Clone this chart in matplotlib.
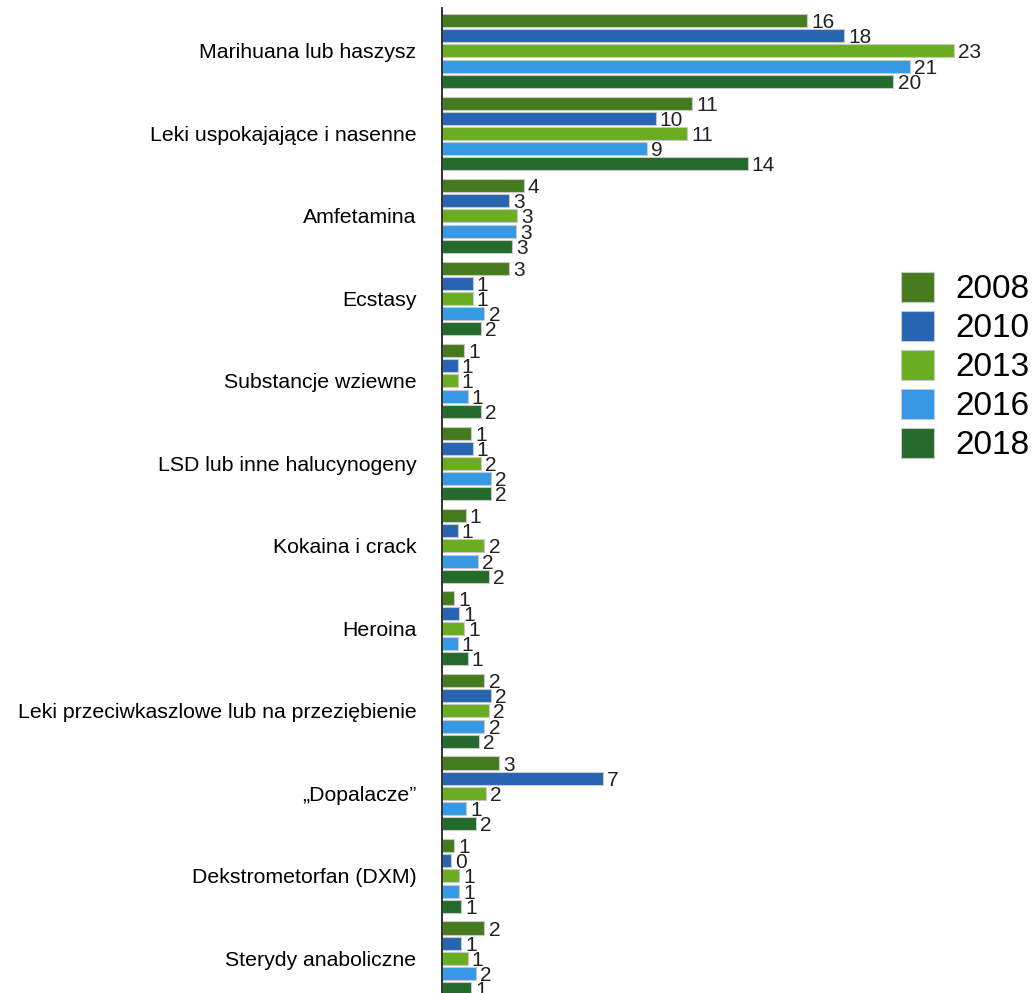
import matplotlib
matplotlib.use("Agg")
import matplotlib.pyplot as plt
from matplotlib.patches import Patch
import numpy as np

plt.rcParams['font.family'] = ['Liberation Sans', 'DejaVu Sans']

categories = [
    "Marihuana lub haszysz",
    "Leki uspokajające i nasenne",
    "Amfetamina",
    "Ecstasy",
    "Substancje wziewne",
    "LSD lub inne halucynogeny",
    "Kokaina i crack",
    "Heroina",
    "Leki przeciwkaszlowe lub na przeziębienie",
    "„Dopalacze”",
    "Dekstrometorfan (DXM)",
    "Sterydy anaboliczne",
]
years = ["2008", "2010", "2013", "2016", "2018"]

v2008 = [16.38, 11.22, 3.66, 2.99, 1.00, 1.29, 1.06, 0.55, 1.90, 2.54, 0.55, 1.90]
v2010 = [18.03, 9.58, 2.99, 1.37, 0.70, 1.37, 0.70, 0.78, 2.18, 7.22, 0.40, 0.85]
v2013 = [22.97, 11.00, 3.36, 1.37, 0.70, 1.73, 1.90, 1.00, 2.12, 1.96, 0.78, 1.15]
v2016 = [20.99, 9.20, 3.30, 1.90, 1.15, 2.18, 1.60, 0.70, 1.90, 1.08, 0.78, 1.52]
v2018 = [20.24, 13.70, 3.15, 1.73, 1.73, 2.18, 2.11, 1.15, 1.67, 1.52, 0.85, 1.29]
series = [v2008, v2010, v2013, v2016, v2018]
colors = ["#457b1d", "#2764b2", "#6bad21", "#3699e5", "#246a2b"]

W, H = 1032, 993
fig = plt.figure(figsize=(W / 100, H / 100), dpi=100)
ax = fig.add_axes([442 / W, 0, 26 * 22.3 / W, 1 - 8 / H])

step = 0.184
bh = 0.158
y = np.arange(len(categories))
for j, (vals, c) in enumerate(zip(series, colors)):
    pos = y + (j - 2) * step
    ax.barh(pos, vals, height=bh, color=c, edgecolor="#c8c8c8", linewidth=0.8)
    for p, v in zip(pos, vals):
        ax.annotate(f"{v:.0f}", (v, p), xytext=(3, -1.5), textcoords="offset points",
                    ha="left", va="center", fontsize=15, color="#222222")

ax.set_xlim(0, 26)
ax.set_ylim(11.42, -0.52)
ax.set_yticks(y)
ax.set_yticklabels(categories, fontsize=15.3)
ax.tick_params(axis="y", length=0, pad=18.5)
ax.set_xticks([])
for s in ["top", "right", "bottom"]:
    ax.spines[s].set_visible(False)
ax.spines["left"].set_linewidth(1.3)
ax.spines["left"].set_color("#222222")

handles = [Patch(facecolor=c, edgecolor="#c8c8c8", linewidth=0.8) for c in colors]
fig.legend(handles, years, loc="upper left",
           bbox_to_anchor=(901 / W, 1 - 272 / H), frameon=False,
           fontsize=24, handlelength=1.0, handleheight=1.0,
           labelspacing=0.17, handletextpad=0.63, borderpad=0, borderaxespad=0)

fig.savefig("out.png", dpi=100)
